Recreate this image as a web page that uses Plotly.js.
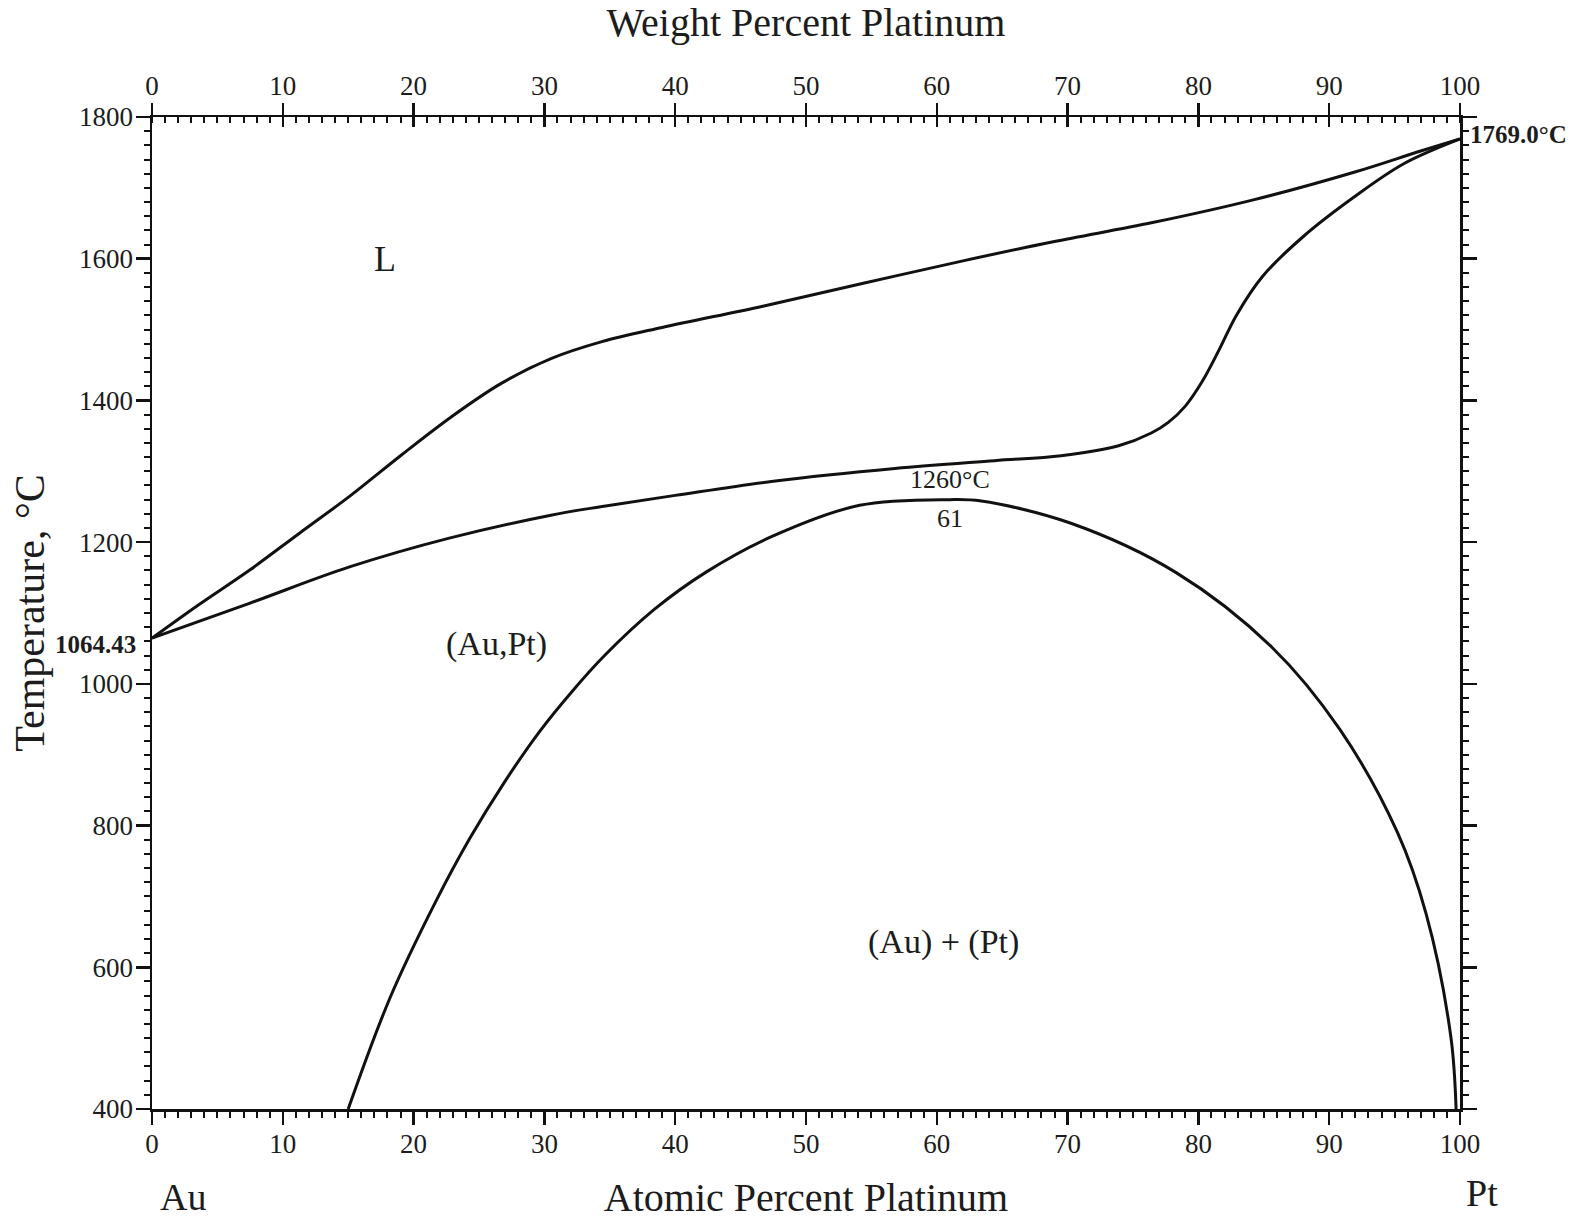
<!DOCTYPE html>
<html>
<head>
<meta charset="utf-8">
<script src="https://cdn.plot.ly/plotly-3.0.1.min.js"></script>
<style>
html,body{margin:0;padding:0;background:#ffffff;}
#chart{width:1585px;height:1225px;}
</style>
</head>
<body>
<div id="chart"></div>
<script>
// ---- Data read from the Au–Pt phase diagram (x: atomic % Pt, y: temperature °C) ----
const liquidusX = [0, 3.6, 7.5, 11.3, 15.2, 19.0, 22.9, 26.7, 30.5, 34.4, 39.0, 46.7, 54.3, 62.0, 68.9, 76.5, 84.2, 91.9, 97.0, 100];
const liquidusT = [1064.43, 1112, 1161, 1213, 1266, 1322, 1377, 1424, 1459, 1483, 1503, 1533, 1565, 1597, 1624, 1651, 1683, 1722, 1752, 1769];

const solidusX = [0, 7.5, 15.1, 22.8, 30.5, 34.3, 40.0, 47.5, 56.8, 64.4, 69.5, 73.9, 76.4, 77.7, 79.0, 80.3, 81.6, 82.9, 84.9, 88.0, 91.9, 95.7, 100];
const solidusT = [1064.43, 1114, 1165, 1206, 1238, 1250, 1266, 1286, 1304, 1315, 1322, 1336, 1354, 1369, 1392, 1427, 1472, 1520, 1575, 1631, 1687, 1734, 1769];

const gapX = [15.0, 18.2, 21.7, 24.3, 26.9, 29.6, 32.1, 34.6, 38.4, 42.3, 47.4, 54.1, 61.0, 63.4, 70.2, 78.3, 85.6, 90.8, 95.2, 97.4, 99.3, 99.7];
const gapT = [400, 557, 693, 782, 860, 932, 989, 1040, 1105, 1157, 1208, 1252, 1260, 1258, 1227, 1157, 1052, 936, 791, 676, 502, 400];

const atomicTicks = [0, 10, 20, 30, 40, 50, 60, 70, 80, 90, 100];
const weightTicks = [0, 10, 20, 30, 40, 50, 60, 70, 80, 90, 100];
const tempTicks = [400, 600, 800, 1000, 1200, 1400, 1600, 1800];

const meltAu = 1064.43;
const meltPt = 1769.0;
const critX = 61;
const critT = 1260;

// ---- Styling ----
const serif = 'Liberation Serif, Times New Roman, serif';
const ink = '#111111';
const txt = '#1c1c1c';

const curve = {color: ink, width: 3, shape: 'spline', smoothing: 1};

const traces = [
  {x: liquidusX, y: liquidusT, mode: 'lines', line: curve, name: 'Liquidus', xaxis: 'x', yaxis: 'y', hoverinfo: 'x+y'},
  {x: solidusX, y: solidusT, mode: 'lines', line: curve, name: 'Solidus', xaxis: 'x', yaxis: 'y', hoverinfo: 'x+y'},
  {x: gapX, y: gapT, mode: 'lines', line: curve, name: 'Miscibility gap', xaxis: 'x', yaxis: 'y', hoverinfo: 'x+y'},
  // empty traces so the secondary (top / right) axes are drawn
  {x: [], y: [], mode: 'lines', xaxis: 'x2', yaxis: 'y', showlegend: false, hoverinfo: 'skip'},
  {x: [], y: [], mode: 'lines', xaxis: 'x3', yaxis: 'y', showlegend: false, hoverinfo: 'skip'},
  {x: [], y: [], mode: 'lines', xaxis: 'x', yaxis: 'y2', showlegend: false, hoverinfo: 'skip'}
];

const axisLine = {showline: true, linecolor: ink, linewidth: 2.5, showgrid: false, zeroline: false, tickcolor: ink, tickwidth: 2.5, fixedrange: true};

const layout = {
  width: 1585, height: 1225,
  margin: {l: 152, r: 125, t: 117, b: 116},
  showlegend: false,
  paper_bgcolor: '#ffffff', plot_bgcolor: '#ffffff',
  font: {family: serif, color: txt, size: 27},
  xaxis: Object.assign({}, axisLine, {
    range: [0, 100], tickmode: 'array', tickvals: atomicTicks, ticktext: atomicTicks.map(String),
    ticks: 'outside', ticklen: 13, ticklabelstandoff: -4,
    minor: {tickmode: 'linear', tick0: 0, dtick: 1, ticks: 'outside', ticklen: 6, tickwidth: 2, tickcolor: ink, showgrid: false},
    tickfont: {family: serif, size: 27, color: txt},
    title: {text: 'Atomic Percent Platinum', font: {family: serif, size: 40, color: txt}, standoff: 25}
  }),
  xaxis2: Object.assign({}, axisLine, {
    overlaying: 'x', side: 'top', anchor: 'y',
    range: [0, 100], tickmode: 'array', tickvals: weightTicks, ticktext: weightTicks.map(String),
    ticks: 'outside', ticklen: 12, ticklabelstandoff: -3,
    minor: {tickmode: 'linear', tick0: 0, dtick: 1, ticks: 'inside', ticklen: 6, tickwidth: 2, tickcolor: ink, showgrid: false},
    tickfont: {family: serif, size: 27, color: txt},
    title: {text: 'Weight Percent Platinum', font: {family: serif, size: 40, color: txt}, standoff: 22}
  }),
  xaxis3: {
    overlaying: 'x', side: 'top', anchor: 'y', range: [0, 100], fixedrange: true,
    tickmode: 'array', tickvals: weightTicks, ticks: 'inside', ticklen: 10, tickwidth: 2.5, tickcolor: ink,
    showticklabels: false, showline: false, showgrid: false, zeroline: false
  },
  yaxis: Object.assign({}, axisLine, {
    range: [400, 1800], tickmode: 'array', tickvals: tempTicks, ticktext: tempTicks.map(String),
    ticks: 'outside', ticklen: 14, ticklabelstandoff: -3,
    minor: {tickmode: 'linear', tick0: 400, dtick: 20, ticks: 'outside', ticklen: 6, tickwidth: 2, tickcolor: ink, showgrid: false},
    tickfont: {family: serif, size: 27, color: txt},
    title: {text: 'Temperature, °C', font: {family: serif, size: 42, color: txt}, standoff: 22}
  }),
  yaxis2: Object.assign({}, axisLine, {
    overlaying: 'y', side: 'right', anchor: 'x',
    range: [400, 1800], tickmode: 'array', tickvals: tempTicks,
    ticks: 'outside', ticklen: 14, showticklabels: false,
    minor: {tickmode: 'linear', tick0: 400, dtick: 20, ticks: 'outside', ticklen: 6, tickwidth: 2, tickcolor: ink, showgrid: false}
  }),
  annotations: [
    {text: 'L', x: 17.8, y: 1600, xref: 'x', yref: 'y', xanchor: 'center', yanchor: 'middle', showarrow: false, font: {family: serif, size: 36, color: txt}},
    {text: '(Au,Pt)', x: 26.3, y: 1056, xref: 'x', yref: 'y', xanchor: 'center', yanchor: 'middle', showarrow: false, font: {family: serif, size: 34, color: txt}},
    {text: '(Au) + (Pt)', x: 60.5, y: 636, xref: 'x', yref: 'y', xanchor: 'center', yanchor: 'middle', showarrow: false, font: {family: serif, size: 34, color: txt}},
    {text: critT + '°C', x: critX, y: 1289, xref: 'x', yref: 'y', xanchor: 'center', yanchor: 'middle', showarrow: false, font: {family: serif, size: 26, color: txt}},
    {text: String(critX), x: critX, y: 1234, xref: 'x', yref: 'y', xanchor: 'center', yanchor: 'middle', showarrow: false, font: {family: serif, size: 26, color: txt}},
    {text: '<b>' + meltPt.toFixed(1) + '°C</b>', x: 1, y: meltPt, xref: 'paper', yref: 'y', xanchor: 'left', yanchor: 'middle', xshift: 8, yshift: 4, showarrow: false, font: {family: serif, size: 25, color: txt}},
    {text: '<b>' + meltAu.toFixed(2) + '</b>', x: 0, y: meltAu, xref: 'paper', yref: 'y', xanchor: 'right', yanchor: 'middle', xshift: -14, yshift: -6, showarrow: false, font: {family: serif, size: 25, color: txt}},
    {text: 'Au', x: 0.0237, y: -0.089, xref: 'paper', yref: 'paper', xanchor: 'center', yanchor: 'middle', showarrow: false, font: {family: serif, size: 38, color: txt}},
    {text: 'Pt', x: 1.0168, y: -0.085, xref: 'paper', yref: 'paper', xanchor: 'center', yanchor: 'middle', showarrow: false, font: {family: serif, size: 38, color: txt}}
  ]
};

Plotly.newPlot('chart', traces, layout, {displayModeBar: false, staticPlot: true});
</script>
</body>
</html>
